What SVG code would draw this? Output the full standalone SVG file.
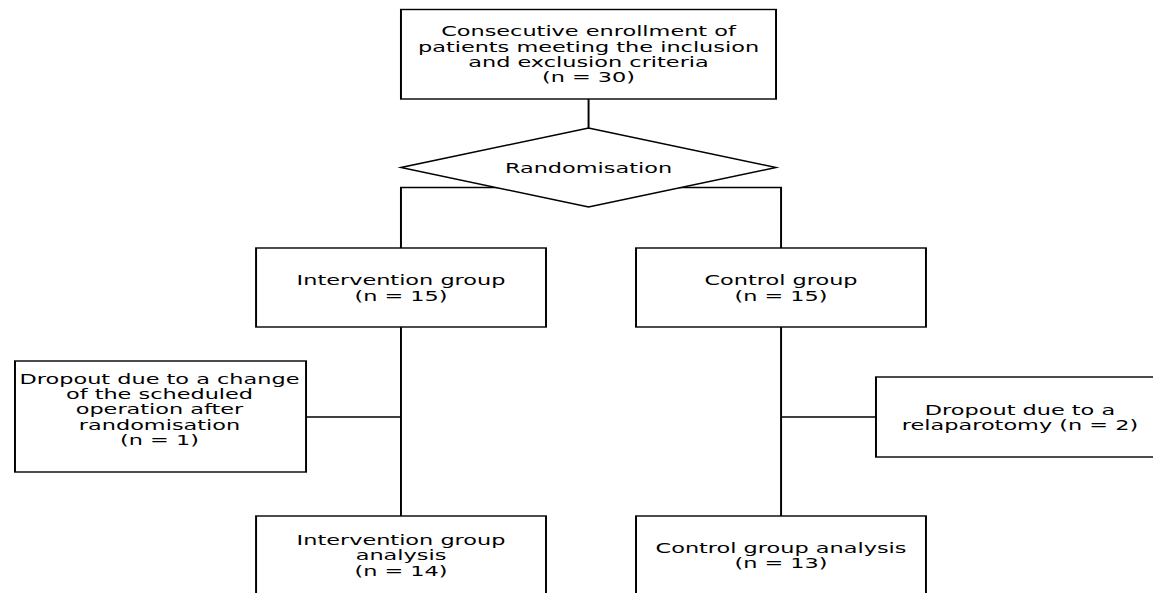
<svg xmlns="http://www.w3.org/2000/svg" width="1153" height="593" viewBox="0 0 1153 593">
<style>
.box{fill:#fff;stroke:#000;stroke-width:1.4}
.ln{fill:none;stroke:#000;stroke-width:1.4}
text{font-family:"DejaVu Sans","Liberation Sans",sans-serif;font-size:13.5px;fill:#000;text-anchor:middle}
</style>
<rect width="1153" height="593" fill="#fff"/>
<g transform="scale(1.4,1)">
<g id="connectors">
<line class="ln" x1="420.4" y1="99" x2="420.4" y2="128"/>
<polyline class="ln" points="286.4,248 286.4,187.5 557.9,187.5 557.9,248"/>
<line class="ln" x1="286.4" y1="327" x2="286.4" y2="516"/>
<line class="ln" x1="557.9" y1="327" x2="557.9" y2="516"/>
<line class="ln" x1="218.6" y1="417" x2="286.4" y2="417"/>
<line class="ln" x1="557.9" y1="417" x2="625.7" y2="417"/>
</g>
<g id="enrollment-shape"><rect class="box" x="286.4" y="9.5" width="267.9" height="89.5"/></g>
<g id="randomisation-shape"><polygon class="box" points="286.4,167.5 420.4,128 554.3,167.5 420.4,207"/></g>
<g id="intervention-shape"><rect class="box" x="182.9" y="248" width="207.1" height="79"/></g>
<g id="control-shape"><rect class="box" x="454.3" y="248" width="207.1" height="79"/></g>
<g id="dropout-intervention-shape"><rect class="box" x="10.7" y="361" width="207.9" height="111"/></g>
<g id="dropout-control-shape"><rect class="box" x="625.7" y="377" width="207" height="80"/></g>
<g id="intervention-analysis-shape"><rect class="box" x="182.9" y="516" width="207.1" height="85"/></g>
<g id="control-analysis-shape"><rect class="box" x="454.3" y="516" width="207.1" height="85"/></g>
</g>
<g id="enrollment">
<text transform="translate(588.5,36.2) scale(1.66,1)">Consecutive enrollment of</text>
<text transform="translate(588.5,51.5) scale(1.66,1)">patients meeting the inclusion</text>
<text transform="translate(588.5,66.8) scale(1.66,1)">and exclusion criteria</text>
<text transform="translate(588.5,82.1) scale(1.66,1)">(n = 30)</text>
</g>
<g id="randomisation">
<text transform="translate(588.5,173) scale(1.66,1)">Randomisation</text>
</g>
<g id="intervention">
<text transform="translate(401,285) scale(1.66,1)">Intervention group</text>
<text transform="translate(401,300.5) scale(1.66,1)">(n = 15)</text>
</g>
<g id="control">
<text transform="translate(781,285) scale(1.66,1)">Control group</text>
<text transform="translate(781,300.5) scale(1.66,1)">(n = 15)</text>
</g>
<g id="dropout-intervention">
<text transform="translate(159.5,383.5) scale(1.66,1)">Dropout due to a change</text>
<text transform="translate(159.5,398.9) scale(1.66,1)">of the scheduled</text>
<text transform="translate(159.5,414.3) scale(1.66,1)">operation after</text>
<text transform="translate(159.5,429.7) scale(1.66,1)">randomisation</text>
<text transform="translate(159.5,445.1) scale(1.66,1)">(n = 1)</text>
</g>
<g id="dropout-control">
<text transform="translate(1020,414.5) scale(1.66,1)">Dropout due to a</text>
<text transform="translate(1020,429.9) scale(1.66,1)">relaparotomy (n = 2)</text>
</g>
<g id="intervention-analysis">
<text transform="translate(401,545) scale(1.66,1)">Intervention group</text>
<text transform="translate(401,560.4) scale(1.66,1)">analysis</text>
<text transform="translate(401,575.8) scale(1.66,1)">(n = 14)</text>
</g>
<g id="control-analysis">
<text transform="translate(781,553) scale(1.66,1)">Control group analysis</text>
<text transform="translate(781,568.4) scale(1.66,1)">(n = 13)</text>
</g>
</svg>
